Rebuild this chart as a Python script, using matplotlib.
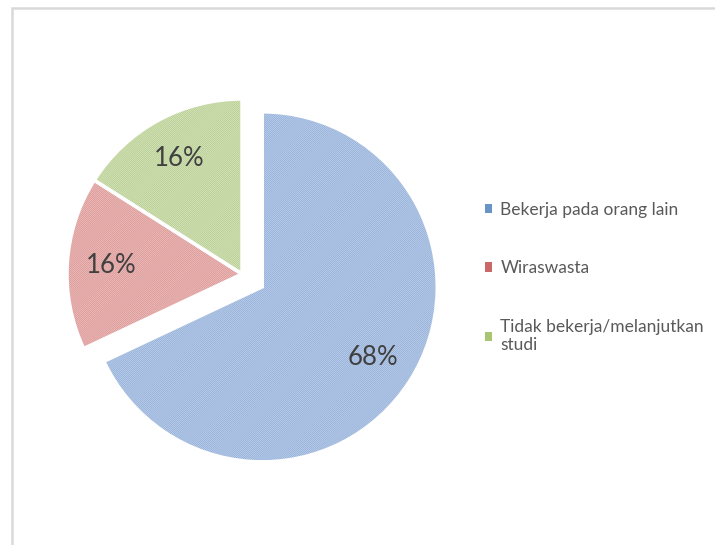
import matplotlib
matplotlib.use("Agg")
from matplotlib import pyplot as plt
from matplotlib.patches import Patch, Rectangle

kategori = ["Bekerja pada orang lain", "Wiraswasta", "Tidak bekerja/melanjutkan\nstudi"]
persen = [68, 16, 16]
warna_isi = ["#d2def1", "#f3d0cf", "#e6efd5"]
warna_garis = ["#92afd9", "#db9795", "#b6cd8e"]
warna_legenda = ["#4f81bd", "#c0504d", "#9bbb59"]

plt.rcParams["hatch.linewidth"] = 0.65
plt.rcParams["font.family"] = ["Lato", "DejaVu Sans"]

fig = plt.figure(figsize=(7.15, 5.45), dpi=100)
W, H = 715, 545

# bingkai abu-abu
fig.patches.append(Rectangle((12 / W, -0.1), 1.2, 1 - 8 / H + 0.1, transform=fig.transFigure,
                             fill=False, edgecolor="#d9d9d9", linewidth=1.8))

cx, cy, r = 242, 274, 175
ax = fig.add_axes([(cx - r) / W, (H - cy - r) / H, 2 * r / W, 2 * r / H])

wedges, teks, angka = ax.pie(persen, startangle=90, counterclock=False,
                             explode=[0.137, 0, 0], colors=warna_isi,
                             autopct="%1.0f%%", pctdistance=0.75,
                             wedgeprops=dict(linewidth=0),
                             textprops=dict(fontsize=18.5, color="#404040"))
for w, g in zip(wedges, warna_garis):
    w.set_edgecolor(g)
    w.set_hatch("/" * 17)
    w.set_clip_on(False)

# garis putih pemisah
garis, _ = ax.pie(persen, startangle=90, counterclock=False, explode=[0.137, 0, 0],
                  colors=["none"] * 3, wedgeprops=dict(linewidth=2.5, edgecolor="white", fill=False))
for w in garis:
    w.set_clip_on(False)

ax.set_xlim(-1, 1)
ax.set_ylim(-1, 1)
ax.set_aspect("equal")

handles = [Patch(facecolor=g, edgecolor="none", alpha=0.85) for g in warna_legenda]
fig.legend(handles, kategori, loc="upper left", bbox_to_anchor=(476 / W, 1 - 193 / H),
           frameon=False, fontsize=12.5, labelcolor="#595959", handlelength=0.45,
           handleheight=0.45, handletextpad=0.45, labelspacing=2.45, borderpad=0)

fig.savefig("out.png", dpi=100)
